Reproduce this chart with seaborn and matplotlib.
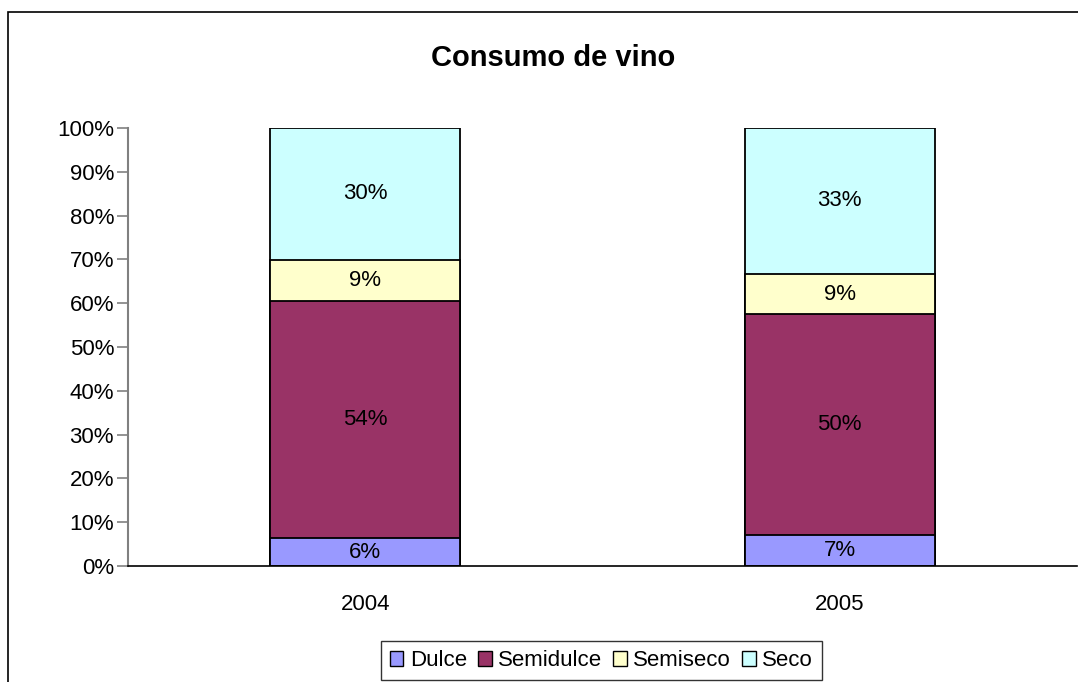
import pandas as pd
import matplotlib.pyplot as plt
import matplotlib.patches as mpatches
import seaborn as sns

years = ["2004", "2005"]
series = ["Dulce", "Semidulce", "Semiseco", "Seco"]
dulce = [6.3, 7.1]
semidulce = [54.2, 50.4]
semiseco = [9.4, 9.2]
seco = [30.1, 33.3]
colors = ["#9999FF", "#993366", "#FFFFCC", "#CCFFFF"]

df = pd.DataFrame({"year": years, "Dulce": dulce, "Semidulce": semidulce,
                   "Semiseco": semiseco, "Seco": seco})
cum = df[series].cumsum(axis=1)
cum["year"] = df["year"]

sns.set_style("white")
plt.rcParams["font.family"] = ["Liberation Sans", "DejaVu Sans"]
plt.rcParams["text.color"] = "black"
plt.rcParams["xtick.color"] = "black"
plt.rcParams["ytick.color"] = "black"

fig = plt.figure(figsize=(10.78, 6.82), dpi=100)
ax = fig.add_axes([0.1187, 0.1701, 0.8803, 0.6422])

# draw cumulative bars from the top down so each segment shows
for name, col in reversed(list(zip(series, colors))):
    sns.barplot(data=cum, x="year", y=name, color=col, width=0.4,
                edgecolor="black", linewidth=1.3, saturation=1, ax=ax)

# segment labels
for i in range(len(years)):
    base = 0
    for name in series:
        v = df.loc[i, name]
        ax.text(i, base + v / 2, f"{round(v):.0f}%", ha="center", va="center",
                fontsize=16, color="black")
        base += v

ax.set_xlim(-0.5, 1.5)
ax.set_ylim(0, 100)
ax.set_yticks(range(0, 101, 10))
ax.set_yticklabels([f"{t}%" for t in range(0, 101, 10)], fontsize=16)
ax.set_xlabel("")
ax.set_ylabel("")
ax.tick_params(axis="x", which="major", length=0, labelsize=16, pad=20)
ax.set_xticks([-0.5, 0.5, 1.5], minor=True)
ax.tick_params(axis="x", which="minor", length=8, color="#808080", width=1.2)
ax.tick_params(axis="y", length=8, color="#808080", labelcolor="black",
               width=1.2, left=True, pad=2)
for s in ["top", "right"]:
    ax.spines[s].set_visible(False)
ax.spines["left"].set_color("#808080")
ax.spines["left"].set_linewidth(1.5)
ax.spines["bottom"].set_color("black")
ax.spines["bottom"].set_linewidth(1.2)

fig.suptitle("Consumo de vino", x=0.513, y=0.935, fontsize=21,
             fontweight="bold", color="black")

handles = [mpatches.Patch(facecolor=c, edgecolor="black", label=n)
           for n, c in zip(series, colors)]
leg = fig.legend(handles=handles, loc="center", ncol=4,
                 bbox_to_anchor=(0.558, 0.031), fontsize=16, frameon=True,
                 fancybox=False, handlelength=0.6, handleheight=0.6,
                 handletextpad=0.3, columnspacing=0.5, borderpad=0.4,
                 borderaxespad=0)
leg.get_frame().set_edgecolor("black")
leg.get_frame().set_linewidth(1.0)

# chart area border (cropped at right and bottom like the source)
fig.patches.append(mpatches.Rectangle((8 / 1078, -0.1), 1.2, (682 - 12) / 682 + 0.1,
                                      transform=fig.transFigure, fill=False,
                                      edgecolor="black", linewidth=1.2))

fig.savefig("out.png", dpi=100)
